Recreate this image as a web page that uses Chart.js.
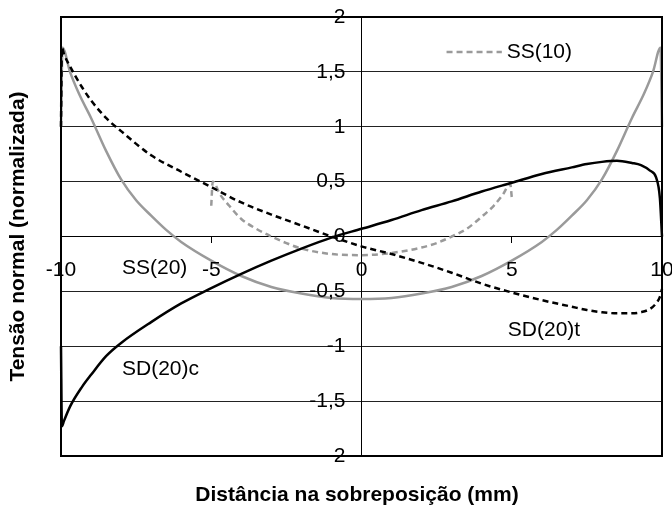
<!DOCTYPE html>
<html>
<head>
<meta charset="utf-8">
<script src="https://cdn.jsdelivr.net/npm/chart.js@4.4.0/dist/chart.umd.min.js"></script>
<style>
  html, body { margin: 0; padding: 0; background: #fff; }
</style>
</head>
<body>
<canvas id="chart" width="672" height="506"></canvas>
<script>
// Series data
const ss20X = [-10, -9.95, -9.7, -9.4, -9, -8.5, -8, -7.5, -7, -6.5, -6, -5, -4, -3, -2, -1, 0,
               1, 2, 3, 4, 5, 6, 6.5, 7, 7.5, 8, 8.5, 9, 9.4, 9.7, 9.95, 10];
const ss20Y = [1.0, 1.72, 1.5, 1.3, 1.08, 0.78, 0.52, 0.33, 0.19, 0.06, -0.05, -0.22, -0.36, -0.46, -0.52, -0.56, -0.57,
               -0.56, -0.52, -0.46, -0.36, -0.22, -0.05, 0.06, 0.19, 0.33, 0.52, 0.78, 1.08, 1.3, 1.5, 1.72, 1.0];

const ss10X = [-5, -4.95, -4.7, -4.4, -4, -3.5, -3, -2.5, -2, -1, 0, 1, 2, 2.5, 3, 3.5, 4, 4.4, 4.7, 4.95, 5];
const ss10Y = [0.28, 0.5, 0.38, 0.28, 0.16, 0.07, 0.0, -0.06, -0.11, -0.16, -0.17, -0.15, -0.1, -0.06, 0.0, 0.07, 0.18, 0.28, 0.38, 0.48, 0.36];

const sdX = [-10, -9.97, -9.9, -9.7, -9.3, -9, -8.5, -8, -7, -6, -5, -4, -3, -2, -1, 0,
             1, 2, 3, 4, 5, 6, 7, 7.5, 8, 8.5, 9, 9.3, 9.6, 9.8, 9.93, 10];
const sd20cY = [-1.0, -1.73, -1.68, -1.55, -1.37, -1.26, -1.09, -0.97, -0.78, -0.61, -0.47, -0.34, -0.22, -0.11, -0.01, 0.07,
                0.15, 0.24, 0.32, 0.41, 0.49, 0.57, 0.63, 0.66, 0.68, 0.69, 0.67, 0.65, 0.6, 0.54, 0.35, 0.0];
const sd20tY = [1.0, 1.72, 1.66, 1.55, 1.36, 1.24, 1.08, 0.96, 0.74, 0.59, 0.45, 0.31, 0.2, 0.1, 0.0, -0.09,
                -0.16, -0.24, -0.33, -0.43, -0.51, -0.58, -0.64, -0.67, -0.69, -0.7, -0.7, -0.69, -0.66, -0.61, -0.55, -0.48];

// Tick labels
const xTicks = [-10, -5, 0, 5, 10];
const yTicks = [-2, -1.5, -1, -0.5, 0, 0.5, 1, 1.5, 2];

const FONT = "'Liberation Sans', Arial, sans-serif";
const GRAY = '#9a9a9a';

const toPoints = (xs, ys) => xs.map((v, i) => ({ x: v, y: ys[i] }));
const fmt = v => String(v).replace('.', ',');

// Annotations, drawn in data coordinates
const notes = [
  { text: 'SS(20)', x: -7.97, y: -0.29 },
  { text: 'SD(20)c', x: -7.97, y: -1.21 },
  { text: 'SD(20)t', x: 4.87, y: -0.85 }
];

const overlay = {
  id: 'overlay',
  afterDraw(chart) {
    const { ctx, chartArea: a, scales: { x, y } } = chart;
    const x0 = x.getPixelForValue(0);
    const y0 = y.getPixelForValue(0);
    ctx.save();
    ctx.fillStyle = '#000';
    ctx.font = '21px ' + FONT;
    ctx.textBaseline = 'middle';

    // tick labels next to the centred axes
    ctx.textAlign = 'right';
    yTicks.forEach(v => ctx.fillText(fmt(v), x0 - 16, y.getPixelForValue(v)));
    ctx.textAlign = 'center';
    xTicks.forEach(v => ctx.fillText(fmt(v), x.getPixelForValue(v), y0 + 34));

    // curve labels
    ctx.textAlign = 'left';
    notes.forEach(n => ctx.fillText(n.text, x.getPixelForValue(n.x), y.getPixelForValue(n.y)));

    // legend entry for SS(10)
    const ly = y.getPixelForValue(1.68);
    ctx.strokeStyle = GRAY;
    ctx.lineWidth = 2.5;
    ctx.setLineDash([6, 4]);
    ctx.beginPath();
    ctx.moveTo(x.getPixelForValue(2.83), ly);
    ctx.lineTo(x.getPixelForValue(4.67), ly);
    ctx.stroke();
    ctx.setLineDash([]);
    ctx.fillText('SS(10)', x.getPixelForValue(4.83), ly);

    // plot frame
    ctx.strokeStyle = '#000';
    ctx.lineWidth = 2;
    ctx.strokeRect(a.left, a.top, a.right - a.left, a.bottom - a.top);

    // axis titles
    ctx.font = 'bold 21px ' + FONT;
    ctx.textAlign = 'center';
    ctx.fillText('Distância na sobreposição (mm)', 357, 495);
    ctx.translate(18, (a.top + a.bottom) / 2);
    ctx.rotate(-Math.PI / 2);
    ctx.fillText('Tensão normal (normalizada)', 0, 0);
    ctx.restore();
  }
};

new Chart(document.getElementById('chart'), {
  type: 'scatter',
  data: {
    datasets: [
      {
        label: 'SD(20)c',
        data: toPoints(sdX, sd20cY),
        borderColor: '#000',
        borderWidth: 2.5,
        order: 1
      },
      {
        label: 'SD(20)t',
        data: toPoints(sdX, sd20tY),
        borderColor: '#000',
        borderWidth: 2.5,
        borderDash: [6, 4],
        order: 2
      },
      {
        label: 'SS(20)',
        data: toPoints(ss20X, ss20Y),
        borderColor: GRAY,
        borderWidth: 2.5,
        order: 3
      },
      {
        label: 'SS(10)',
        data: toPoints(ss10X, ss10Y),
        borderColor: GRAY,
        borderWidth: 2.5,
        borderDash: [6, 4],
        order: 4
      }
    ]
  },
  options: {
    responsive: false,
    animation: false,
    showLine: true,
    clip: 4,
    elements: {
      point: { radius: 0, hoverRadius: 0 },
      line: { tension: 0.3, cubicInterpolationMode: 'monotone', fill: false }
    },
    layout: { padding: { left: 61, right: 10, top: 17, bottom: 50 } },
    plugins: {
      legend: { display: false },
      tooltip: { enabled: false }
    },
    scales: {
      x: {
        type: 'linear',
        min: -10,
        max: 10,
        position: { y: 0 },
        afterBuildTicks: scale => { scale.ticks = xTicks.map(v => ({ value: v })); },
        ticks: { display: false },
        grid: { drawOnChartArea: false, tickLength: 6, color: '#000', lineWidth: 1 },
        border: { color: '#000', width: 1 }
      },
      y: {
        type: 'linear',
        min: -2,
        max: 2,
        position: { x: 0 },
        afterBuildTicks: scale => { scale.ticks = yTicks.map(v => ({ value: v })); },
        ticks: { display: false },
        grid: { tickLength: 6, color: '#222', lineWidth: 1 },
        border: { color: '#000', width: 1 }
      }
    }
  },
  plugins: [overlay]
});
</script>
</body>
</html>
